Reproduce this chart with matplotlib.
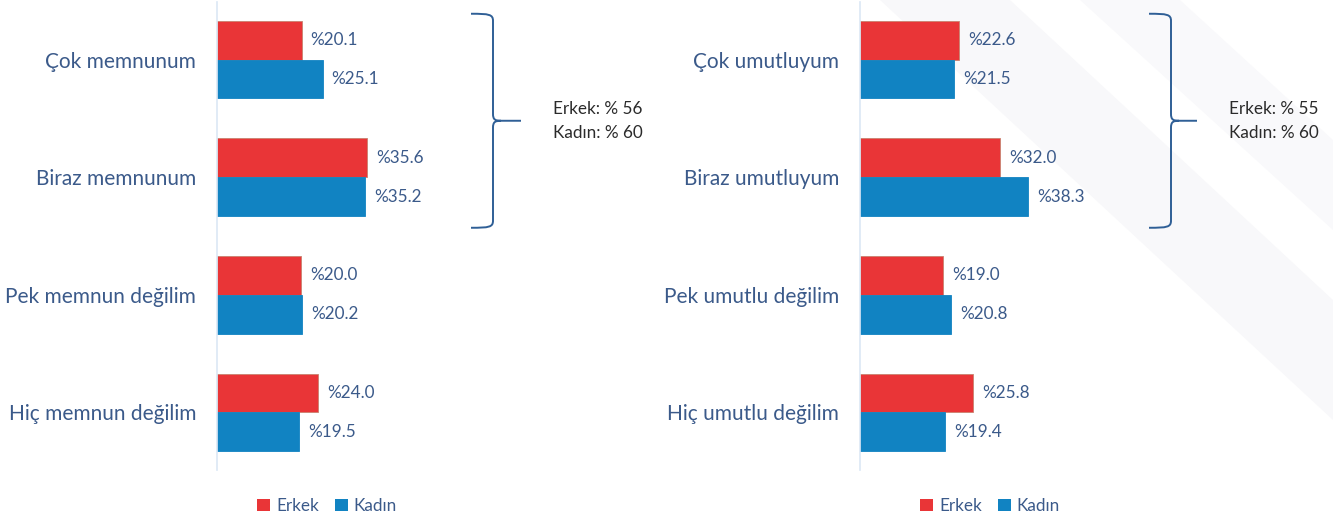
import matplotlib
matplotlib.use("Agg")
import matplotlib.pyplot as plt
from matplotlib.path import Path
from matplotlib.patches import PathPatch, Polygon, Patch
from matplotlib.transforms import blended_transform_factory, offset_copy
import numpy as np

# ---------------- data ----------------
cats_left = ["Çok memnunum", "Biraz memnunum", "Pek memnun değilim", "Hiç memnun değilim"]
erkek_left = [20.1, 35.6, 20.0, 24.0]
kadin_left = [25.1, 35.2, 20.2, 19.5]
brace_left = ["Erkek: % 56", "Kadın: % 60"]

cats_right = ["Çok umutluyum", "Biraz umutluyum", "Pek umutlu değilim", "Hiç umutlu değilim"]
erkek_right = [22.6, 32.0, 19.0, 25.8]
kadin_right = [21.5, 38.3, 20.8, 19.4]
brace_right = ["Erkek: % 55", "Kadın: % 60"]

series_names = ["Erkek", "Kadın"]

# ---------------- style ----------------
RED = "#E93537"
BLUE = "#1183C2"
TXT = "#3B5A8A"
FONT = ["Lato", "DejaVu Sans"]
plt.rcParams["font.family"] = FONT

W, H = 1333, 525
fig = plt.figure(figsize=(W / 100, H / 100), dpi=100)
fig.patch.set_facecolor("white")

# faint decorative diagonal bands in the background (top right)
bg = fig.add_axes([0, 0, 1, 1], zorder=-10)
bg.set_xlim(0, W); bg.set_ylim(H, 0); bg.axis("off")
bg.add_patch(Polygon([(880, 0), (1010, 0), (1333, 300), (1333, 420)], closed=True,
                     facecolor="#f8f8fa", edgecolor="none"))
bg.add_patch(Polygon([(1080, 0), (1180, 0), (1333, 140), (1333, 230)], closed=True,
                     facecolor="#f9f9fb", edgecolor="none"))

BAR_H = 0.33


def px_box(x0, y0, x1, y1):
    return [x0 / W, 1 - y1 / H, (x1 - x0) / W, (y1 - y0) / H]


def draw_panel(rect, xmax, cats, erk, kad, brace_txt, brace_px, legend_cx):
    ax = fig.add_axes(rect)
    ax.set_facecolor("none")
    y = np.arange(len(cats))
    ax.barh(y - BAR_H / 2, erk, height=BAR_H, color=RED, edgecolor="#c8826f",
            linewidth=0.6, label=series_names[0])
    ax.barh(y + BAR_H / 2, kad, height=BAR_H, color=BLUE, edgecolor=BLUE,
            linewidth=0.6, label=series_names[1])
    ax.set_xlim(0, xmax)
    ax.set_ylim(len(cats) - 0.51, -0.49)
    ax.set_yticks(y)
    ax.set_yticklabels(cats, fontsize=15, color=TXT)
    ax.tick_params(axis="y", length=0, pad=15)
    ax.set_xticks([])
    for s in ["top", "right", "bottom"]:
        ax.spines[s].set_visible(False)
    ax.spines["left"].set_color("#dbe7f5")
    ax.spines["left"].set_linewidth(1.2)

    off = offset_copy(ax.transData, fig=fig, x=9, y=0, units="dots")
    for i in range(len(cats)):
        ax.text(erk[i], y[i] - BAR_H / 2, "%" + f"{erk[i]:.1f}", transform=off,
                ha="left", va="center", fontsize=12.3, color=TXT)
        ax.text(kad[i], y[i] + BAR_H / 2, "%" + f"{kad[i]:.1f}", transform=off,
                ha="left", va="center", fontsize=12.3, color=TXT)

    # curly brace spanning first two groups
    xa, xs, xt = brace_px
    tr = blended_transform_factory(fig.transFigure, ax.transData)
    fx = lambda p: p / W
    ytop, ybot = -0.39, 1.43
    ymid = (ytop + ybot) / 2
    c = 0.06
    verts = [
        (fx(xa), ytop), (fx(xs - 4), ytop), (fx(xs), ytop + 0.005), (fx(xs), ytop + c),
        (fx(xs), ymid - c),
        (fx(xs), ymid - 0.01), (fx(xs + 2), ymid), (fx(xs + 8), ymid),
        (fx(xt), ymid),
        (fx(xs + 8), ymid), (fx(xs + 2), ymid), (fx(xs), ymid + 0.01), (fx(xs), ymid + c),
        (fx(xs), ybot - c),
        (fx(xs), ybot - 0.005), (fx(xs - 4), ybot), (fx(xa), ybot),
    ]
    codes = [Path.MOVETO, Path.CURVE4, Path.CURVE4, Path.CURVE4,
             Path.LINETO,
             Path.CURVE4, Path.CURVE4, Path.CURVE4,
             Path.LINETO,
             Path.MOVETO, Path.CURVE4, Path.CURVE4, Path.CURVE4,
             Path.LINETO,
             Path.CURVE4, Path.CURVE4, Path.CURVE4]
    ax.add_patch(PathPatch(Path(verts, codes), transform=tr, facecolor="none",
                           edgecolor="#2f5f96", linewidth=1.4, clip_on=False))
    tx = xt + 32
    ax.text(fx(tx), ymid - 0.1, brace_txt[0], transform=tr, ha="left", va="center",
            fontsize=12.3, color="#2b2b2b")
    ax.text(fx(tx), ymid + 0.1, brace_txt[1], transform=tr, ha="left", va="center",
            fontsize=12.3, color="#2b2b2b")

    handles = [Patch(facecolor=RED, edgecolor="none"), Patch(facecolor=BLUE, edgecolor="none")]
    fig.legend(handles, series_names, loc="center", ncol=2,
               bbox_to_anchor=(legend_cx / W, 1 - 506 / H), frameon=False,
               fontsize=12.3, labelcolor=TXT, handlelength=0.75, handleheight=0.75,
               handletextpad=0.35, columnspacing=0.95, borderpad=0)
    return ax


draw_panel(px_box(217, 2, 217 + 4.21 * 50, 470), 50, cats_left, erkek_left, kadin_left,
           brace_left, (471, 493, 521), 327)
draw_panel(px_box(860, 2, 860 + 4.39 * 50, 470), 50, cats_right, erkek_right, kadin_right,
           brace_right, (1149, 1171, 1197), 990)

fig.savefig("out.png", dpi=100, facecolor="white")
